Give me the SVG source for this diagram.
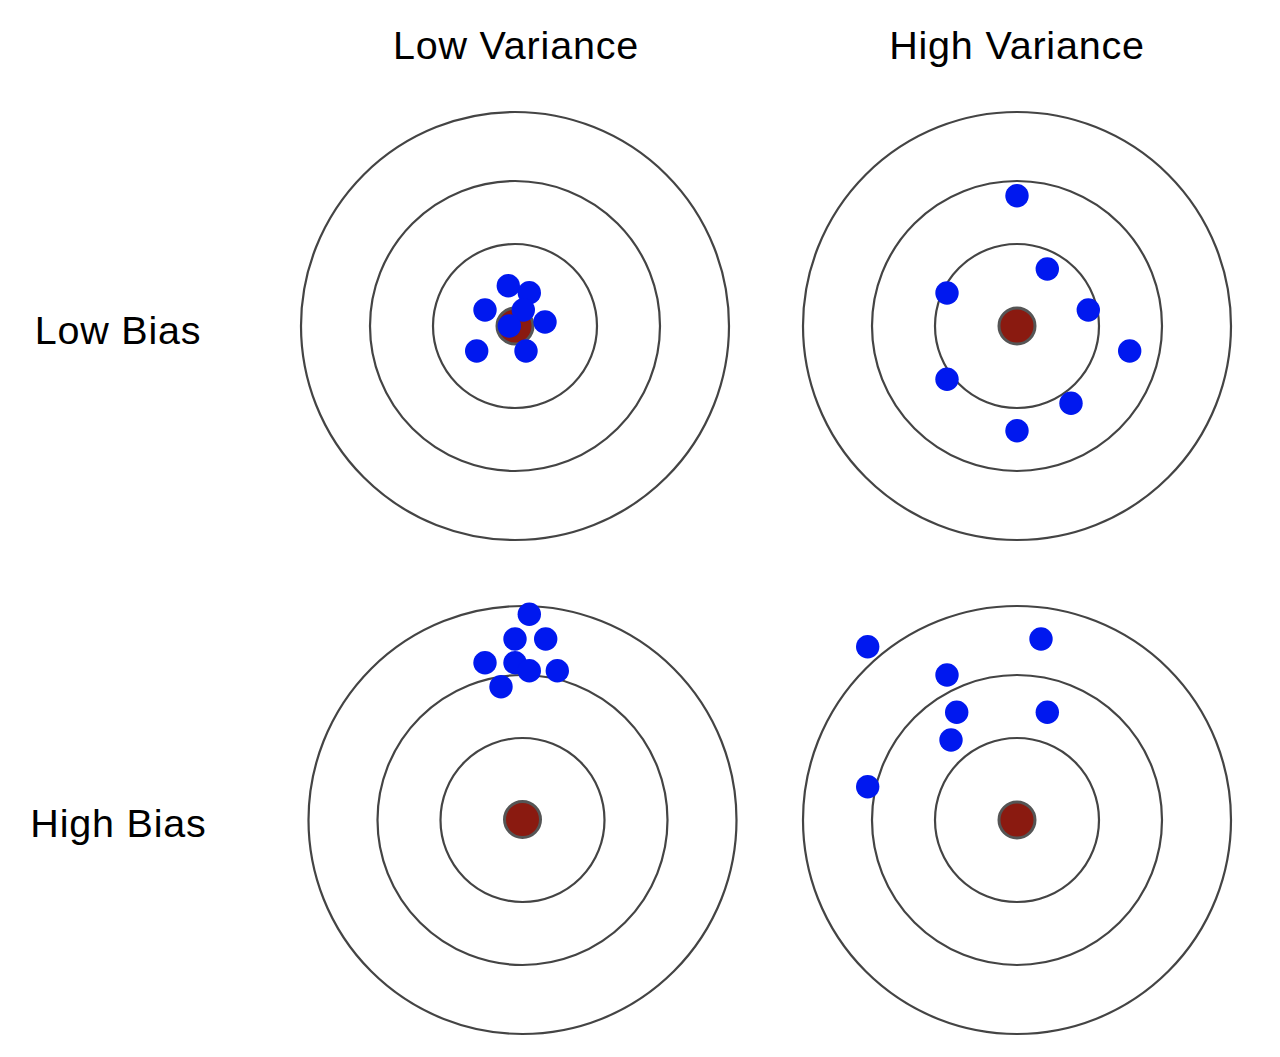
<svg xmlns="http://www.w3.org/2000/svg" width="1280" height="1057" viewBox="0 0 1280 1057">
<style>
.ring{fill:none;stroke:#444;stroke-width:2.2}
.bull{fill:#8a1a10;stroke:#555;stroke-width:3}
.dot{fill:#0018ef}
.lbl{font-family:"Liberation Sans",Arial,sans-serif;font-size:39.5px;letter-spacing:0.8px;fill:#000;text-anchor:middle}
</style>
<rect width="1280" height="1057" fill="#fff"/>
<g id="labels">
<text class="lbl" x="516" y="59">Low Variance</text>
<text class="lbl" x="1017" y="59">High Variance</text>
<text class="lbl" x="118" y="344">Low Bias</text>
<text class="lbl" x="118.5" y="837">High Bias</text>
</g>
<g id="target-lowbias-lowvar">
<circle class="ring" cx="515" cy="326" r="214"/>
<circle class="ring" cx="515" cy="326" r="145"/>
<circle class="ring" cx="515" cy="326" r="82"/>
<circle class="bull" cx="515" cy="326" r="18"/>
<circle class="dot" cx="508.3" cy="285.7" r="11.7"/>
<circle class="dot" cx="529.3" cy="292.7" r="11.7"/>
<circle class="dot" cx="485" cy="310" r="11.7"/>
<circle class="dot" cx="523.3" cy="310" r="11.7"/>
<circle class="dot" cx="545" cy="322" r="11.7"/>
<circle class="dot" cx="509.3" cy="326" r="11.7"/>
<circle class="dot" cx="476.7" cy="351" r="11.7"/>
<circle class="dot" cx="526" cy="351" r="11.7"/>
</g>
<g id="target-lowbias-highvar">
<circle class="ring" cx="1017" cy="326" r="214"/>
<circle class="ring" cx="1017" cy="326" r="145"/>
<circle class="ring" cx="1017" cy="326" r="82"/>
<circle class="bull" cx="1017" cy="326" r="18"/>
<circle class="dot" cx="1017" cy="195.7" r="11.7"/>
<circle class="dot" cx="1047.3" cy="269" r="11.7"/>
<circle class="dot" cx="947" cy="293" r="11.7"/>
<circle class="dot" cx="1088.3" cy="310" r="11.7"/>
<circle class="dot" cx="1129.7" cy="351" r="11.7"/>
<circle class="dot" cx="947" cy="379.3" r="11.7"/>
<circle class="dot" cx="1071" cy="403.3" r="11.7"/>
<circle class="dot" cx="1017" cy="430.7" r="11.7"/>
</g>
<g id="target-highbias-lowvar">
<circle class="ring" cx="522.5" cy="820" r="214"/>
<circle class="ring" cx="522.5" cy="820" r="145"/>
<circle class="ring" cx="522.5" cy="820" r="82"/>
<circle class="bull" cx="522.5" cy="819.5" r="18"/>
<circle class="dot" cx="529.3" cy="614.3" r="11.7"/>
<circle class="dot" cx="515" cy="639" r="11.7"/>
<circle class="dot" cx="545.7" cy="639" r="11.7"/>
<circle class="dot" cx="485" cy="662.7" r="11.7"/>
<circle class="dot" cx="515" cy="662.7" r="11.7"/>
<circle class="dot" cx="529.3" cy="670.7" r="11.7"/>
<circle class="dot" cx="557.3" cy="670.7" r="11.7"/>
<circle class="dot" cx="501" cy="686.7" r="11.7"/>
</g>
<g id="target-highbias-highvar">
<circle class="ring" cx="1017" cy="820" r="214"/>
<circle class="ring" cx="1017" cy="820" r="145"/>
<circle class="ring" cx="1017" cy="820" r="82"/>
<circle class="bull" cx="1017" cy="820" r="18"/>
<circle class="dot" cx="867.7" cy="646.7" r="11.7"/>
<circle class="dot" cx="1041" cy="639" r="11.7"/>
<circle class="dot" cx="947" cy="675" r="11.7"/>
<circle class="dot" cx="956.7" cy="712.3" r="11.7"/>
<circle class="dot" cx="1047.3" cy="712.3" r="11.7"/>
<circle class="dot" cx="951" cy="740" r="11.7"/>
<circle class="dot" cx="867.7" cy="786.7" r="11.7"/>
</g>
<g id="connectors"/>
</svg>
